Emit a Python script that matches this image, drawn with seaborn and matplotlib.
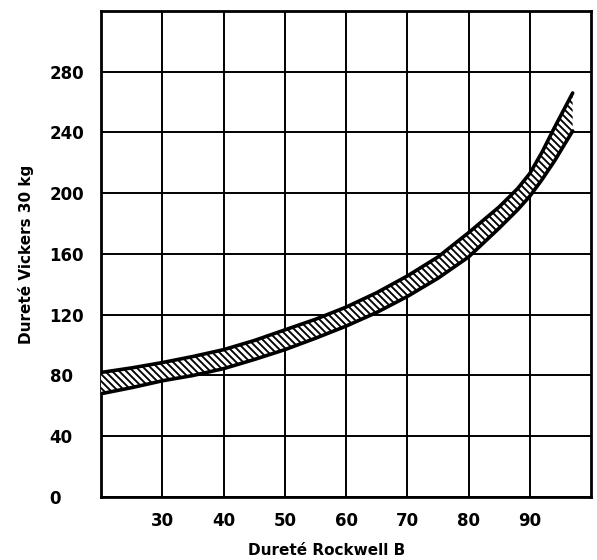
import seaborn as sns
import pandas as pd
import matplotlib.pyplot as plt

# values
rockwell_b = [20, 25, 30, 35, 40, 45, 50, 55, 60, 65, 70, 75, 80, 85, 88, 90, 92, 94, 97]
vickers_upper = [82, 85, 88.5, 92.5, 97, 103, 110, 117, 125, 134.5, 145.5, 158, 174, 191, 203, 213, 227, 243, 266]
vickers_lower = [68, 72, 76.5, 80, 84.5, 90.5, 97, 104.5, 112.5, 121.5, 132, 144, 158, 177, 189, 198, 209, 221, 241]
x_ticks = [30, 40, 50, 60, 70, 80, 90]
y_ticks = [0, 40, 80, 120, 160, 200, 240, 280]

df = pd.DataFrame({"hrb": rockwell_b, "upper": vickers_upper, "lower": vickers_lower})

sns.set_theme(style="white")
plt.rcParams["font.family"] = ["DejaVu Sans"]
plt.rcParams["text.color"] = "black"
plt.rcParams["axes.labelcolor"] = "black"
plt.rcParams["xtick.color"] = "black"
plt.rcParams["ytick.color"] = "black"
plt.rcParams["hatch.linewidth"] = 1.6

# dpi 84 so the hatch spacing comes out near the original's
DPI = 84
k = 100 / DPI
fig = plt.figure(figsize=(597 / DPI, 560 / DPI), dpi=DPI)
ax = fig.add_axes([0.1692, 0.1125, 0.8208, 0.8679])

ax.fill_between(df["hrb"], df["lower"], df["upper"], facecolor="white",
                edgecolor="black", hatch="\\\\\\\\", linewidth=0, zorder=3)
sns.lineplot(data=df, x="hrb", y="upper", color="black", linewidth=2.6 * k, ax=ax, zorder=4)
sns.lineplot(data=df, x="hrb", y="lower", color="black", linewidth=2.6 * k, ax=ax, zorder=4)

ax.set_xlim(20, 100)
ax.set_ylim(0, 320)
ax.set_xticks(x_ticks)
ax.set_yticks(y_ticks)
ax.set_xticklabels([str(v) for v in x_ticks], fontsize=12 * k, fontweight="bold")
ax.set_yticklabels([str(v) for v in y_ticks], fontsize=12 * k, fontweight="bold", ha="left")
ax.tick_params(axis="x", length=0, pad=11 * k)
ax.tick_params(axis="y", length=0, pad=37 * k)
ax.grid(True, color="black", linewidth=1.4 * k)
ax.set_axisbelow(True)
for s in ax.spines.values():
    s.set_color("black")
    s.set_linewidth(2 * k)

ax.set_xlabel("Dureté Rockwell B", fontsize=11 * k, fontweight="bold")
ax.xaxis.set_label_coords(0.461, -0.094)
ax.set_ylabel("Dureté Vickers 30 kg", fontsize=11 * k, fontweight="bold")
ax.yaxis.set_label_coords(-0.137, 0.5)

plt.savefig("out.png", dpi=DPI)
